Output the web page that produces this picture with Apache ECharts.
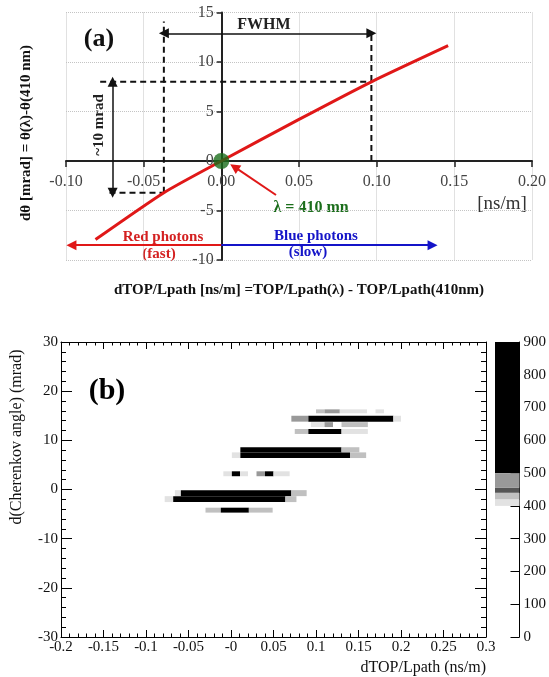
<!DOCTYPE html>
<html>
<head>
<meta charset="utf-8">
<script src="https://cdn.jsdelivr.net/npm/echarts@6/dist/echarts.min.js"></script>
<style>
  html, body { margin: 0; padding: 0; background: #fff; }
  #main { width: 549px; height: 677px; }
</style>
</head>
<body>
<div id="main"></div>
<script>
// ---- panel (a) data ----
var aTickX = ['-0.10', '-0.05', '0.00', '0.05', '0.10', '0.15', '0.20'];
var aTickY = ['-10', '-5', '0', '5', '10', '15'];
var curveX = [-0.081, -0.037, 0, 0.05, 0.0966, 0.146];
var curveY = [-7.93, -3.2, 0, 4.2, 8.0, 11.65];
var refPoint = [0, 0];
var dashSegments = [
  [[-0.037, -3.2], [-0.037, 14.1]],
  [[0.0966, 0], [0.0966, 12.9]],
  [[-0.078, 8.0], [0.0966, 8.0]],
  [[-0.072, -3.2], [-0.037, -3.2]]
];
var blackArrows = [
  [[-0.037, 12.9], [0.0966, 12.9]],
  [[-0.070, 8.0], [-0.070, -3.2]]
];
var pointerArrow = [[0.0352, -3.43], [0.0084, -0.6]];
var redArrow = [[0, -8.5], [-0.0965, -8.5]];
var blueArrow = [[0, -8.5], [0.136, -8.5]];

// ---- panel (b) data ----
var bTickX = ['-0.2', '-0.15', '-0.1', '-0.05', '-0', '0.05', '0.1', '0.15', '0.2', '0.25', '0.3'];
var bTickY = ['-30', '-20', '-10', '0', '10', '20', '30'];
// [x0, x1, y0, y1, count]
var histCells = [
  [0.100, 0.110, 15.5, 16.3, 430], [0.110, 0.128, 15.5, 16.3, 480],
  [0.128, 0.160, 15.5, 16.3, 410], [0.170, 0.180, 15.5, 16.3, 410],
  [0.071, 0.091, 13.8, 15.0, 480], [0.091, 0.191, 13.8, 15.0, 800],
  [0.191, 0.200, 13.8, 15.0, 410],
  [0.094, 0.110, 12.7, 13.7, 410], [0.110, 0.120, 12.7, 13.7, 480],
  [0.130, 0.161, 12.7, 13.7, 430],
  [0.075, 0.091, 11.3, 12.3, 430], [0.091, 0.130, 11.3, 12.3, 800],
  [0.130, 0.161, 11.3, 12.3, 410],
  [0.011, 0.130, 7.55, 8.6, 800], [0.130, 0.151, 7.55, 8.6, 430],
  [0.001, 0.011, 6.4, 7.55, 410], [0.011, 0.140, 6.4, 7.55, 800],
  [0.140, 0.159, 6.4, 7.55, 430],
  [-0.009, 0.001, 2.7, 3.7, 410], [0.001, 0.0106, 2.7, 3.7, 800],
  [0.0106, 0.020, 2.7, 3.7, 410], [0.030, 0.040, 2.7, 3.7, 480],
  [0.040, 0.050, 2.7, 3.7, 800], [0.050, 0.069, 2.7, 3.7, 410],
  [-0.066, -0.059, -1.35, -0.13, 410], [-0.059, 0.071, -1.35, -0.13, 800],
  [0.071, 0.089, -1.35, -0.13, 430],
  [-0.078, -0.068, -2.56, -1.35, 410], [-0.068, 0.064, -2.56, -1.35, 800],
  [0.064, 0.077, -2.56, -1.35, 430],
  [-0.030, -0.012, -4.7, -3.7, 430], [-0.012, 0.021, -4.7, -3.7, 800],
  [0.021, 0.049, -4.7, -3.7, 430]
];
var colorbarTicks = ['0', '100', '200', '300', '400', '500', '600', '700', '800', '900'];
var colorbarEdges = [400, 420, 440, 455, 500, 900];
var colorbarColors = ['#e2e2e2', '#c0c0c0', '#555555', '#999999', '#000000'];

function paletteColor(v) {
  for (var i = 0; i < colorbarColors.length; i++) {
    if (v >= colorbarEdges[i] && v < colorbarEdges[i + 1]) return colorbarColors[i];
  }
  return v >= 900 ? '#000' : '#fff';
}
function tickFmt(labels, min, step) {
  return function (v) { return labels[Math.round((v - min) / step)]; };
}

var SERIF = '"Liberation Serif", "DejaVu Serif", serif';
var chart = echarts.init(document.getElementById('main'));

// panel (a) grid box, used to put the axes through the origin
var gA = { left: 66, right: 16, top: 12.5, bottom: 417 };
var gAw = 549 - gA.left - gA.right;
var gAh = 677 - gA.top - gA.bottom;
var xZeroOffset = -gAw * (0 - (-0.1)) / 0.3;
var yZeroOffset = -gAh * (0 - (-10)) / 25;

var series = [];
dashSegments.forEach(function (seg) {
  series.push({
    type: 'line', xAxisIndex: 0, yAxisIndex: 0, data: seg, symbol: 'none',
    lineStyle: { color: '#111', width: 2, type: [6, 4] }, z: 3
  });
});
series.push({
  type: 'line', xAxisIndex: 0, yAxisIndex: 0, smooth: 0.2, symbol: 'none',
  data: curveX.map(function (x, i) { return [x, curveY[i]]; }),
  lineStyle: { color: '#e01818', width: 3 }, z: 4
});
function arrowSeries(list, color, width, symbols) {
  return {
    type: 'lines', coordinateSystem: 'cartesian2d', xAxisIndex: 0, yAxisIndex: 0,
    symbol: symbols, symbolSize: 10,
    data: list.map(function (c) { return { coords: c }; }),
    lineStyle: { color: color, width: width, opacity: 1, type: 'solid' }, z: 5
  };
}
series.push(arrowSeries(blackArrows, '#111', 1.5, ['triangle', 'triangle']));
series.push(arrowSeries([pointerArrow], '#e01818', 2, ['none', 'triangle']));
series.push(arrowSeries([redArrow], '#e01818', 2, ['none', 'triangle']));
series.push(arrowSeries([blueArrow], '#1414c8', 2, ['none', 'triangle']));
series.push({
  type: 'scatter', xAxisIndex: 0, yAxisIndex: 0, data: [refPoint],
  symbolSize: 16, itemStyle: { color: '#1b6e1b' }, z: 6
});
series.push({
  type: 'custom', xAxisIndex: 1, yAxisIndex: 1, data: histCells,
  encode: { x: [0, 1], y: [2, 3] },
  renderItem: function (params, api) {
    var p0 = api.coord([api.value(0), api.value(3)]);
    var p1 = api.coord([api.value(1), api.value(2)]);
    return {
      type: 'rect',
      shape: { x: p0[0], y: p0[1], width: p1[0] - p0[0], height: p1[1] - p0[1] },
      style: { fill: paletteColor(api.value(4)) }
    };
  }
});
series.push({
  type: 'custom', xAxisIndex: 3, yAxisIndex: 3,
  data: colorbarColors.map(function (c, i) { return [colorbarEdges[i], colorbarEdges[i + 1], i]; }),
  encode: { y: [0, 1] },
  renderItem: function (params, api) {
    var p0 = api.coord([0, api.value(1)]);
    var p1 = api.coord([1, api.value(0)]);
    return {
      type: 'rect',
      shape: { x: p0[0], y: p0[1], width: p1[0] - p0[0], height: p1[1] - p0[1] },
      style: { fill: colorbarColors[api.value(2)] }
    };
  }
});

var bAxisCommon = {
  axisLine: { onZero: false, lineStyle: { color: '#000', width: 1 } },
  splitLine: { show: false }
};

var option = {
  animation: false,
  backgroundColor: '#fff',
  grid: [
    gA,
    { left: 61, right: 63, top: 342, bottom: 40 },
    { left: 495, right: 28, top: 342, bottom: 40 }
  ],
  xAxis: [
    {
      gridIndex: 0, type: 'value', min: -0.1, max: 0.2, interval: 0.05,
      position: 'bottom', offset: yZeroOffset,
      axisLine: { onZero: false, lineStyle: { color: '#222', width: 2 } },
      axisTick: { length: 6, lineStyle: { color: '#222', width: 1.5 } },
      axisLabel: {
        formatter: tickFmt(aTickX, -0.1, 0.05), margin: 13,
        fontFamily: SERIF, fontSize: 16, color: '#444'
      },
      splitLine: { lineStyle: { color: '#c4c4c4', type: 'dotted', width: 1 } }
    },
    Object.assign({
      gridIndex: 1, type: 'value', min: -0.2, max: 0.3, interval: 0.05, position: 'bottom',
      axisTick: { inside: true, length: 7, lineStyle: { color: '#000' } },
      minorTick: { show: true, splitNumber: 5, length: 3.5, lineStyle: { color: '#000' } },
      axisLabel: {
        formatter: tickFmt(bTickX, -0.2, 0.05), margin: 3,
        fontFamily: SERIF, fontSize: 15, color: '#111'
      }
    }, bAxisCommon),
    Object.assign({
      gridIndex: 1, type: 'value', min: -0.2, max: 0.3, interval: 0.05, position: 'top',
      axisTick: { inside: true, length: 7, lineStyle: { color: '#000' } },
      minorTick: { show: true, splitNumber: 5, length: 3.5, lineStyle: { color: '#000' } },
      axisLabel: { show: false }
    }, bAxisCommon),
    { gridIndex: 2, type: 'value', min: 0, max: 1, show: false }
  ],
  yAxis: [
    {
      gridIndex: 0, type: 'value', min: -10, max: 15, interval: 5,
      position: 'left', offset: xZeroOffset,
      axisLine: { onZero: false, lineStyle: { color: '#222', width: 2 } },
      axisTick: { show: true, length: 5, lineStyle: { color: '#222', width: 1.5 } },
      axisLabel: {
        formatter: tickFmt(aTickY, -10, 5), margin: 8,
        fontFamily: SERIF, fontSize: 16, color: '#444'
      },
      splitLine: { lineStyle: { color: '#c4c4c4', type: 'dotted', width: 1 } }
    },
    Object.assign({
      gridIndex: 1, type: 'value', min: -30, max: 30, interval: 10, position: 'left',
      axisTick: { inside: true, length: 11, lineStyle: { color: '#000' } },
      minorTick: { show: true, splitNumber: 5, length: 5, lineStyle: { color: '#000' } },
      axisLabel: {
        formatter: tickFmt(bTickY, -30, 10), margin: 3,
        fontFamily: SERIF, fontSize: 15, color: '#111'
      }
    }, bAxisCommon),
    Object.assign({
      gridIndex: 1, type: 'value', min: -30, max: 30, interval: 10, position: 'right',
      axisTick: { inside: true, length: 11, lineStyle: { color: '#000' } },
      minorTick: { show: true, splitNumber: 5, length: 5, lineStyle: { color: '#000' } },
      axisLabel: { show: false }
    }, bAxisCommon),
    {
      gridIndex: 2, type: 'value', min: 0, max: 900, interval: 100, position: 'right',
      axisLine: { show: true, onZero: false, lineStyle: { color: '#000', width: 1 } },
      axisTick: { inside: true, length: 9, lineStyle: { color: '#000' } },
      axisLabel: {
        formatter: tickFmt(colorbarTicks, 0, 100), margin: 4,
        fontFamily: SERIF, fontSize: 15, color: '#111'
      },
      splitLine: { show: false }
    }
  ],
  graphic: [
    { type: 'text', x: 99, y: 39, style: { text: '(a)', font: 'bold 26px ' + SERIF, fill: '#111', align: 'center', verticalAlign: 'middle' } },
    { type: 'text', x: 264, y: 25, style: { text: 'FWHM', font: 'bold 16px ' + SERIF, fill: '#222', align: 'center', verticalAlign: 'middle' } },
    { type: 'text', x: 99, y: 125, rotation: Math.PI / 2, style: { text: '~10 mrad', font: 'bold 15px ' + SERIF, fill: '#222', align: 'center', verticalAlign: 'middle' } },
    { type: 'text', x: 311, y: 208, style: { text: 'λ = 410 mn', font: 'bold 16px ' + SERIF, fill: '#1b6e1b', align: 'center', verticalAlign: 'middle' } },
    { type: 'text', x: 163, y: 237, style: { text: 'Red photons', font: 'bold 15px ' + SERIF, fill: '#d42020', align: 'center', verticalAlign: 'middle' } },
    { type: 'text', x: 159, y: 254, style: { text: '(fast)', font: 'bold 15px ' + SERIF, fill: '#d42020', align: 'center', verticalAlign: 'middle' } },
    { type: 'text', x: 316, y: 236, style: { text: 'Blue photons', font: 'bold 15px ' + SERIF, fill: '#1414c8', align: 'center', verticalAlign: 'middle' } },
    { type: 'text', x: 308, y: 252, style: { text: '(slow)', font: 'bold 15px ' + SERIF, fill: '#1414c8', align: 'center', verticalAlign: 'middle' } },
    { type: 'text', x: 502, y: 204, style: { text: '[ns/m]', font: '19px ' + SERIF, fill: '#333', align: 'center', verticalAlign: 'middle' } },
    { type: 'text', x: 26, y: 133, rotation: Math.PI / 2, style: { text: 'dθ [mrad] = θ(λ)-θ(410 nm)', font: 'bold 15px ' + SERIF, fill: '#111', align: 'center', verticalAlign: 'middle' } },
    { type: 'text', x: 299, y: 290, style: { text: 'dTOP/Lpath [ns/m] =TOP/Lpath(λ) - TOP/Lpath(410nm)', font: 'bold 15px ' + SERIF, fill: '#111', align: 'center', verticalAlign: 'middle' } },
    { type: 'text', x: 107, y: 391, style: { text: '(b)', font: 'bold 30px ' + SERIF, fill: '#000', align: 'center', verticalAlign: 'middle' } },
    { type: 'text', x: 486, y: 668, style: { text: 'dTOP/Lpath (ns/m)', font: '16px ' + SERIF, fill: '#111', align: 'right', verticalAlign: 'middle' } },
    { type: 'text', x: 17, y: 437, rotation: Math.PI / 2, style: { text: 'd(Cherenkov angle) (mrad)', font: '16px ' + SERIF, fill: '#111', align: 'center', verticalAlign: 'middle' } }
  ],
  series: series
};

chart.setOption(option);
</script>
</body>
</html>
